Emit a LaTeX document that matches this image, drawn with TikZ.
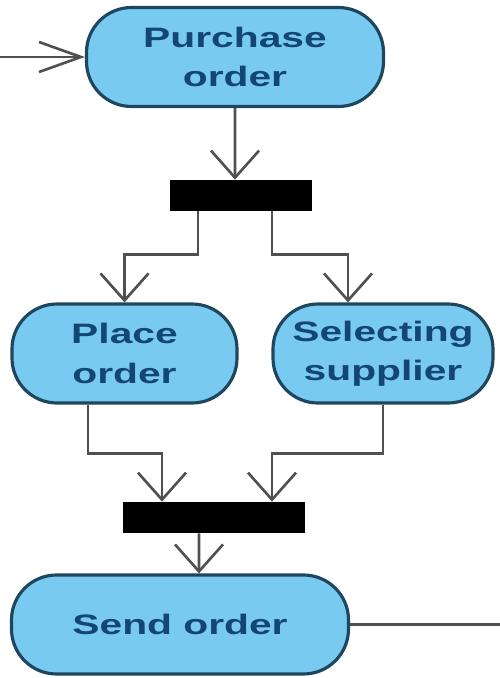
\documentclass[tikz,border=0pt]{standalone}
\usepackage{fontspec}
\newfontfamily\actfont[FakeStretch=1.45]{Liberation Sans}
\definecolor{actfill}{RGB}{120, 202, 240}
\definecolor{actline}{RGB}{30, 70, 95}
\definecolor{acttext}{RGB}{20, 70, 115}
\definecolor{flowline}{RGB}{80, 80, 80}
\usepackage{tikz}
\usetikzlibrary{arrows.meta,positioning}

\begin{document}
\begin{tikzpicture}[
		act/.style={rectangle,rounded corners=0.9cm,draw=actline,fill=actfill,
			line width=1.8pt,align=center,text=acttext,inner sep=0pt,minimum height=1.98cm,
			font=\actfont\bfseries\fontsize{16}{22.5}\selectfont},
		bar/.style={rectangle,fill=black,inner sep=0pt,minimum height=0.62cm},
		flow/.style={draw=flowline,line width=1.5pt,-{Straight Barb[length=5.4mm,width=9.6mm]}}]
		\useasboundingbox (0,0) rectangle (10,-13.56);
		\node[act,minimum width=5.94cm] (po) at (4.70,-1.14) {Purchase\\order};
		\node[bar,minimum width=2.84cm] (fork) at (4.82,-3.91) {};
		\node[act,minimum width=4.5cm] (place) at (2.49,-7.07) {Place\\order};
		\node[act,minimum width=4.4cm] (select) at (7.66,-7.07) {Selecting\\supplier};
		\node[bar,minimum width=3.64cm] (join) at (4.28,-10.35) {};
		\node[act,minimum width=6.74cm] (send) at (3.6,-12.49) {Send order};
		\coordinate (start) at (0,-1.14);
		\coordinate (finish) at (10,-12.49);
		% flows
		\draw[flow,-{Straight Barb[length=8.4mm,width=6mm]}] (start) -- (po.west);
		\draw[flow] (po.south) -- ([xshift=-0.12cm]fork.north);
		\draw[flow] ([xshift=-0.86cm]fork.south) -- ++(0,-0.86) -| (place.north);
		\draw[flow] ([xshift=0.62cm]fork.south) -- ++(0,-0.86) -| ([xshift=-0.7cm]select.north);
		\draw[flow] ([xshift=-0.73cm]place.south) -- ++(0,-0.98) -| ([xshift=-1.04cm]join.north);
		\draw[flow] (select.south) -- ++(0,-0.98) -| ([xshift=1.16cm]join.north);
		\draw[flow] ([xshift=-0.3cm]join.south) -- ([xshift=0.38cm]send.north);
		\draw[draw=flowline,line width=1.5pt] (send.east) -- (finish);
	\end{tikzpicture}
\end{document}
